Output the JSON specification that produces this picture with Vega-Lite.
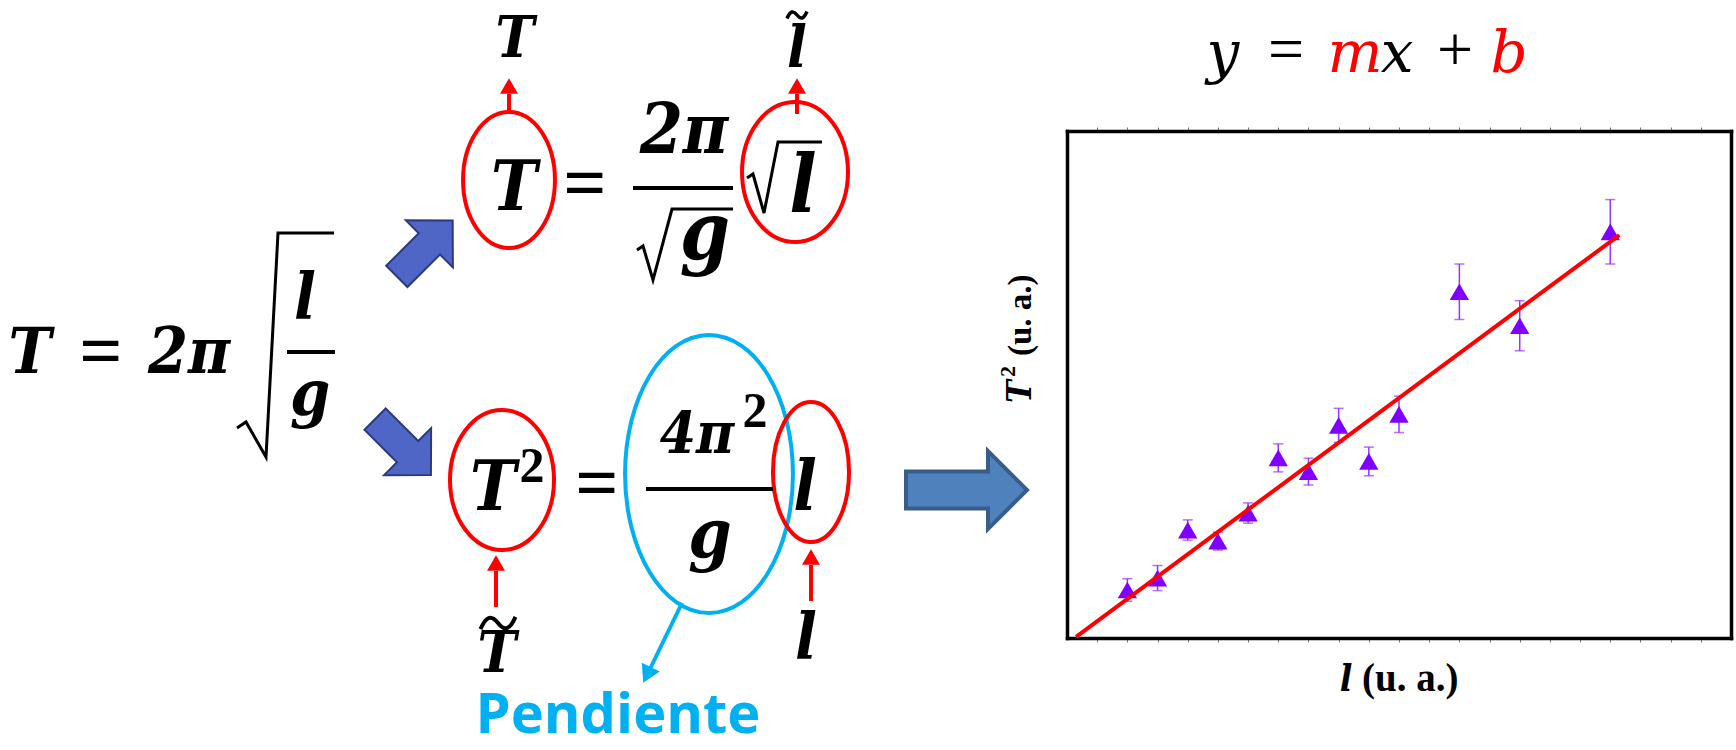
{
  "$schema": "https://vega.github.io/schema/vega-lite/v6.json",
  "width": 1736,
  "height": 750,
  "padding": 0,
  "autosize": {"type": "none"},
  "background": "white",
  "config": {"view": {"stroke": null}},
  "resolve": {"scale": {"x": "independent", "y": "independent"}},
  "layer": [
    {
      "encoding": {
        "x": {"field": "x", "type": "quantitative", "scale": {"domain": [0, 1736], "range": [0, 1736], "nice": false, "zero": false}, "axis": null},
        "y": {"field": "y", "type": "quantitative", "scale": {"domain": [0, 750], "range": [0, 750], "nice": false, "zero": false}, "axis": null}
      },
      "layer": [
        {
          "data": {"values": [{"x": 709, "y": 474}]},
          "mark": {"type": "point", "shape": "M0,-1A0.604,1 0 1,1 0,1A0.604,1 0 1,1 0,-1Z", "size": 77284, "filled": false, "color": "#00B0F0", "strokeWidth": 4, "opacity": 1}
        },
        {
          "data": {"values": [{"x": 509, "y": 180}]},
          "mark": {"type": "point", "shape": "M0,-1A0.676,1 0 1,1 0,1A0.676,1 0 1,1 0,-1Z", "size": 18496, "filled": false, "color": "#FF0000", "strokeWidth": 4, "opacity": 1}
        },
        {
          "data": {"values": [{"x": 795, "y": 172}]},
          "mark": {"type": "point", "shape": "M0,-1A0.757,1 0 1,1 0,1A0.757,1 0 1,1 0,-1Z", "size": 19600, "filled": false, "color": "#FF0000", "strokeWidth": 4, "opacity": 1}
        },
        {
          "data": {"values": [{"x": 502, "y": 480}]},
          "mark": {"type": "point", "shape": "M0,-1A0.743,1 0 1,1 0,1A0.743,1 0 1,1 0,-1Z", "size": 19600, "filled": false, "color": "#FF0000", "strokeWidth": 4, "opacity": 1}
        },
        {
          "data": {"values": [{"x": 811, "y": 472}]},
          "mark": {"type": "point", "shape": "M0,-1A0.543,1 0 1,1 0,1A0.543,1 0 1,1 0,-1Z", "size": 19600, "filled": false, "color": "#FF0000", "strokeWidth": 4, "opacity": 1}
        },
        {
          "data": {"values": [{"x": 966.5, "y": 490}]},
          "mark": {"type": "point", "shape": "M-1,-0.306L0.355,-0.306L0.355,-0.645L1,0L0.355,0.645L0.355,0.306L-1,0.306Z", "size": 14641, "filled": true, "fill": "#4F81BD", "stroke": "#385D8A", "strokeWidth": 4, "opacity": 1}
        },
        {
          "data": {"values": [{"x": 424.75, "y": 248.5}]},
          "mark": {"type": "point", "shape": "M-1,-0.38L0.165,-0.38L0.165,-0.842L1,0L0.165,0.842L0.165,0.38L-1,0.38Z", "size": 6241, "angle": 315, "filled": true, "fill": "#5066C6", "stroke": "#2B3A80", "strokeWidth": 2, "opacity": 1}
        },
        {
          "data": {"values": [{"x": 403, "y": 447}]},
          "mark": {"type": "point", "shape": "M-1,-0.38L0.165,-0.38L0.165,-0.842L1,0L0.165,0.842L0.165,0.38L-1,0.38Z", "size": 6241, "angle": 45, "filled": true, "fill": "#5066C6", "stroke": "#2B3A80", "strokeWidth": 2, "opacity": 1}
        },
        {
          "data": {"values": [
            {"x": 509, "y": 94, "y2": 112},
            {"x": 797, "y": 94, "y2": 114},
            {"x": 496, "y": 571, "y2": 607},
            {"x": 811, "y": 565, "y2": 601}
          ]},
          "mark": {"type": "rule", "color": "#FF0000", "strokeWidth": 4},
          "encoding": {"y2": {"field": "y2"}}
        },
        {
          "data": {"values": [
            {"x": 509, "y": 86},
            {"x": 797, "y": 86},
            {"x": 496, "y": 563},
            {"x": 811, "y": 557}
          ]},
          "mark": {"type": "point", "shape": "triangle-up", "size": 324, "filled": true, "color": "#FF0000", "opacity": 1}
        },
        {
          "data": {"values": [{"x": 682, "y": 603, "x2": 648, "y2": 673}]},
          "mark": {"type": "rule", "color": "#00B0F0", "strokeWidth": 4},
          "encoding": {"x2": {"field": "x2"}, "y2": {"field": "y2"}}
        },
        {
          "data": {"values": [{"x": 647, "y": 675}]},
          "mark": {"type": "point", "shape": "triangle-up", "size": 400, "angle": 206, "filled": true, "color": "#00B0F0", "opacity": 1}
        },
        {
          "data": {"values": [
            {"g": "a", "i": 0, "x": 237, "y": 428},
            {"g": "a", "i": 1, "x": 246, "y": 422},
            {"g": "a", "i": 2, "x": 266, "y": 457},
            {"g": "a", "i": 3, "x": 278, "y": 233},
            {"g": "a", "i": 4, "x": 334, "y": 233},
            {"g": "b", "i": 0, "x": 637, "y": 250},
            {"g": "b", "i": 1, "x": 643, "y": 246},
            {"g": "b", "i": 2, "x": 653, "y": 280},
            {"g": "b", "i": 3, "x": 672, "y": 209},
            {"g": "b", "i": 4, "x": 733, "y": 209},
            {"g": "c", "i": 0, "x": 747, "y": 178},
            {"g": "c", "i": 1, "x": 753, "y": 174},
            {"g": "c", "i": 2, "x": 764, "y": 213},
            {"g": "c", "i": 3, "x": 778, "y": 142},
            {"g": "c", "i": 4, "x": 822, "y": 142}
          ]},
          "mark": {"type": "line", "color": "#000000", "strokeWidth": 3, "strokeJoin": "miter"},
          "encoding": {"detail": {"field": "g", "type": "nominal"}, "order": {"field": "i", "type": "quantitative"}}
        },
        {
          "data": {"values": [
            {"x": 287, "x2": 335, "y": 352},
            {"x": 633, "x2": 733, "y": 188},
            {"x": 646, "x2": 773, "y": 489}
          ]},
          "mark": {"type": "rule", "color": "#000000", "strokeWidth": 4},
          "encoding": {"x2": {"field": "x2"}}
        },
        {
          "data": {"values": [{"x": 498, "y": 623}]},
          "mark": {"type": "point", "shape": "M-1,0.35C-0.65,-0.45 -0.35,-0.45 0,0C0.35,0.45 0.65,0.45 1,-0.35", "size": 1225, "filled": false, "color": "#000000", "strokeWidth": 4, "opacity": 1}
        },
        {
          "data": {"values": [{"x": 797, "y": 15}]},
          "mark": {"type": "point", "shape": "M-1,0.35C-0.65,-0.45 -0.35,-0.45 0,0C0.35,0.45 0.65,0.45 1,-0.35", "size": 400, "filled": false, "color": "#000000", "strokeWidth": 3.5, "opacity": 1}
        },
        {
          "data": {"values": [
            {"x": 30, "y": 373, "s": "T"},
            {"x": 189, "y": 373, "s": "2π"},
            {"x": 305, "y": 318, "s": "l"},
            {"x": 310, "y": 415, "s": "g"},
            {"x": 806, "y": 658, "s": "l"}
          ]},
          "mark": {"type": "text", "font": "DejaVu Serif Condensed, DejaVu Serif", "fontStyle": "italic", "fontWeight": "bold", "fontSize": 64, "align": "center", "baseline": "alphabetic", "color": "#000000"},
          "encoding": {"text": {"field": "s"}}
        },
        {
          "data": {"values": [
            {"x": 514, "y": 210, "s": "T"},
            {"x": 684, "y": 153, "s": "2π"},
            {"x": 493, "y": 510, "s": "T"},
            {"x": 805, "y": 510, "s": "l"},
            {"x": 710, "y": 558, "s": "g"}
          ]},
          "mark": {"type": "text", "font": "DejaVu Serif Condensed, DejaVu Serif", "fontStyle": "italic", "fontWeight": "bold", "fontSize": 69, "align": "center", "baseline": "alphabetic", "color": "#000000"},
          "encoding": {"text": {"field": "s"}}
        },
        {
          "data": {"values": [
            {"x": 705, "y": 259, "s": "g"},
            {"x": 803, "y": 212, "s": "l"}
          ]},
          "mark": {"type": "text", "font": "DejaVu Serif Condensed, DejaVu Serif", "fontStyle": "italic", "fontWeight": "bold", "fontSize": 80, "align": "center", "baseline": "alphabetic", "color": "#000000"},
          "encoding": {"text": {"field": "s"}}
        },
        {
          "data": {"values": [
            {"x": 515, "y": 57, "s": "T"},
            {"x": 797, "y": 67, "s": "l"},
            {"x": 497, "y": 672, "s": "T"},
            {"x": 697, "y": 453, "s": "4π"}
          ]},
          "mark": {"type": "text", "font": "DejaVu Serif Condensed, DejaVu Serif", "fontStyle": "italic", "fontWeight": "bold", "fontSize": 58, "align": "center", "baseline": "alphabetic", "color": "#000000"},
          "encoding": {"text": {"field": "s"}}
        },
        {
          "data": {"values": [
            {"x": 101, "y": 376, "s": "="},
            {"x": 585, "y": 208, "s": "="},
            {"x": 597, "y": 508, "s": "="}
          ]},
          "mark": {"type": "text", "font": "Liberation Serif", "fontWeight": "bold", "fontSize": 76, "align": "center", "baseline": "alphabetic", "color": "#000000"},
          "encoding": {"text": {"field": "s"}}
        },
        {
          "data": {"values": [
            {"x": 532, "y": 482, "s": "2"},
            {"x": 755, "y": 427, "s": "2"}
          ]},
          "mark": {"type": "text", "font": "Liberation Serif", "fontWeight": "bold", "fontSize": 50, "align": "center", "baseline": "alphabetic", "color": "#000000"},
          "encoding": {"text": {"field": "s"}}
        },
        {
          "data": {"values": [{"x": 618, "y": 733, "s": "Pendiente"}]},
          "mark": {"type": "text", "font": "Open Sans", "fontWeight": "bold", "fontSize": 56, "align": "center", "baseline": "alphabetic", "color": "#00B0F0"},
          "encoding": {"text": {"field": "s"}}
        },
        {
          "data": {"values": [
            {"x": 1223, "y": 72, "s": "y"},
            {"x": 1397, "y": 72, "s": "x"}
          ]},
          "mark": {"type": "text", "font": "DejaVu Serif", "fontStyle": "italic", "fontSize": 58, "align": "center", "baseline": "alphabetic", "color": "#000000"},
          "encoding": {"text": {"field": "s"}}
        },
        {
          "data": {"values": [
            {"x": 1355, "y": 72, "s": "m"},
            {"x": 1509, "y": 72, "s": "b"}
          ]},
          "mark": {"type": "text", "font": "DejaVu Serif", "fontStyle": "italic", "fontSize": 58, "align": "center", "baseline": "alphabetic", "color": "#FF0000"},
          "encoding": {"text": {"field": "s"}}
        },
        {
          "data": {"values": [
            {"x": 1286, "y": 70, "s": "="},
            {"x": 1455, "y": 71, "s": "+"}
          ]},
          "mark": {"type": "text", "font": "Liberation Serif", "fontSize": 64, "align": "center", "baseline": "alphabetic", "color": "#000000"},
          "encoding": {"text": {"field": "s"}}
        },
        {
          "data": {"values": [{"x": 1346, "y": 691, "s": "l"}]},
          "mark": {"type": "text", "font": "DejaVu Serif Condensed, DejaVu Serif", "fontStyle": "italic", "fontWeight": "bold", "fontSize": 37, "align": "center", "baseline": "alphabetic", "color": "#000000"},
          "encoding": {"text": {"field": "s"}}
        },
        {
          "data": {"values": [{"x": 1362, "y": 691, "s": "(u. a.)"}]},
          "mark": {"type": "text", "font": "Liberation Serif", "fontWeight": "bold", "fontSize": 39, "align": "left", "baseline": "alphabetic", "color": "#000000"},
          "encoding": {"text": {"field": "s"}}
        },
        {
          "data": {"values": [{"x": 1031, "y": 403, "s": "T"}]},
          "mark": {"type": "text", "font": "DejaVu Serif Condensed, DejaVu Serif", "fontStyle": "italic", "fontWeight": "bold", "fontSize": 34, "angle": 270, "align": "left", "baseline": "alphabetic", "color": "#000000"},
          "encoding": {"text": {"field": "s"}}
        },
        {
          "data": {"values": [{"x": 1015, "y": 377, "s": "2"}]},
          "mark": {"type": "text", "font": "Liberation Serif", "fontWeight": "bold", "fontSize": 22, "angle": 270, "align": "left", "baseline": "alphabetic", "color": "#000000"},
          "encoding": {"text": {"field": "s"}}
        },
        {
          "data": {"values": [{"x": 1031, "y": 356, "s": "(u. a.)"}]},
          "mark": {"type": "text", "font": "Liberation Serif", "fontWeight": "bold", "fontSize": 33, "angle": 270, "align": "left", "baseline": "alphabetic", "color": "#000000"},
          "encoding": {"text": {"field": "s"}}
        }
      ]
    },
    {
      "data": {"values": [
        {"l": 2, "t2": 1.61, "err": 0.38},
        {"l": 3, "t2": 2.01, "err": 0.42},
        {"l": 4, "t2": 3.62, "err": 0.34},
        {"l": 5, "t2": 3.25, "err": 0.3},
        {"l": 6, "t2": 4.19, "err": 0.34},
        {"l": 7, "t2": 6.04, "err": 0.47},
        {"l": 8, "t2": 5.58, "err": 0.45},
        {"l": 9, "t2": 7.13, "err": 0.57},
        {"l": 10, "t2": 5.92, "err": 0.48},
        {"l": 11, "t2": 7.5, "err": 0.61},
        {"l": 13, "t2": 11.61, "err": 0.93},
        {"l": 15, "t2": 10.47, "err": 0.84},
        {"l": 18, "t2": 13.62, "err": 1.08}
      ]},
      "encoding": {
        "x": {"field": "l", "type": "quantitative", "scale": {"domain": [0, 22], "range": [1067, 1731], "nice": false, "zero": false}, "axis": null},
        "y": {"field": "t2", "type": "quantitative", "scale": {"domain": [0, 17], "range": [638, 131], "nice": false, "zero": false}, "axis": null}
      },
      "resolve": {"axis": {"x": "independent", "y": "independent"}},
      "layer": [
        {
          "mark": {"type": "errorbar", "color": "#9933FF", "thickness": 1.5, "ticks": {"size": 10, "thickness": 1.5, "color": "#9933FF"}},
          "encoding": {"yError": {"field": "err"}}
        },
        {
          "mark": {"type": "point", "shape": "triangle-up", "size": 372, "filled": true, "color": "#8000FF", "opacity": 1},
          "encoding": {
            "x": {"field": "l", "type": "quantitative", "scale": {"domain": [0, 22], "range": [1067, 1731], "nice": false, "zero": false},
              "axis": {"orient": "bottom", "offset": -112, "values": [1, 2, 3, 4, 5, 6, 7, 8, 9, 10, 11, 12, 13, 14, 15, 16, 17, 18, 19, 20, 21], "labels": false, "title": null, "grid": false, "domain": true, "domainColor": "#000000", "domainWidth": 3.5, "domainCap": "square", "ticks": true, "tickSize": 4, "tickColor": "#777777", "tickWidth": 1}},
            "y": {"field": "t2", "type": "quantitative", "scale": {"domain": [0, 17], "range": [638, 131], "nice": false, "zero": false},
              "axis": {"orient": "left", "offset": -1067, "labels": false, "ticks": false, "title": null, "grid": false, "domain": true, "domainColor": "#000000", "domainWidth": 3.5, "domainCap": "square"}}
          }
        },
        {
          "data": {"values": [
            {"l": 0.3, "t2": 0.04},
            {"l": 18.3, "t2": 13.51}
          ]},
          "mark": {"type": "line", "color": "#FF0000", "strokeWidth": 4},
          "encoding": {
            "x": {"field": "l", "type": "quantitative", "scale": {"domain": [0, 22], "range": [1067, 1731], "nice": false, "zero": false},
              "axis": {"orient": "top", "offset": -131, "values": [1, 2, 3, 4, 5, 6, 7, 8, 9, 10, 11, 12, 13, 14, 15, 16, 17, 18, 19, 20, 21], "labels": false, "title": null, "grid": false, "domain": true, "domainColor": "#000000", "domainWidth": 3.5, "domainCap": "square", "ticks": true, "tickSize": 4, "tickColor": "#777777", "tickWidth": 1}},
            "y": {"field": "t2", "type": "quantitative", "scale": {"domain": [0, 17], "range": [638, 131], "nice": false, "zero": false},
              "axis": {"orient": "right", "offset": -5, "labels": false, "ticks": false, "title": null, "grid": false, "domain": true, "domainColor": "#000000", "domainWidth": 3.5, "domainCap": "square"}}
          }
        }
      ]
    }
  ]
}
